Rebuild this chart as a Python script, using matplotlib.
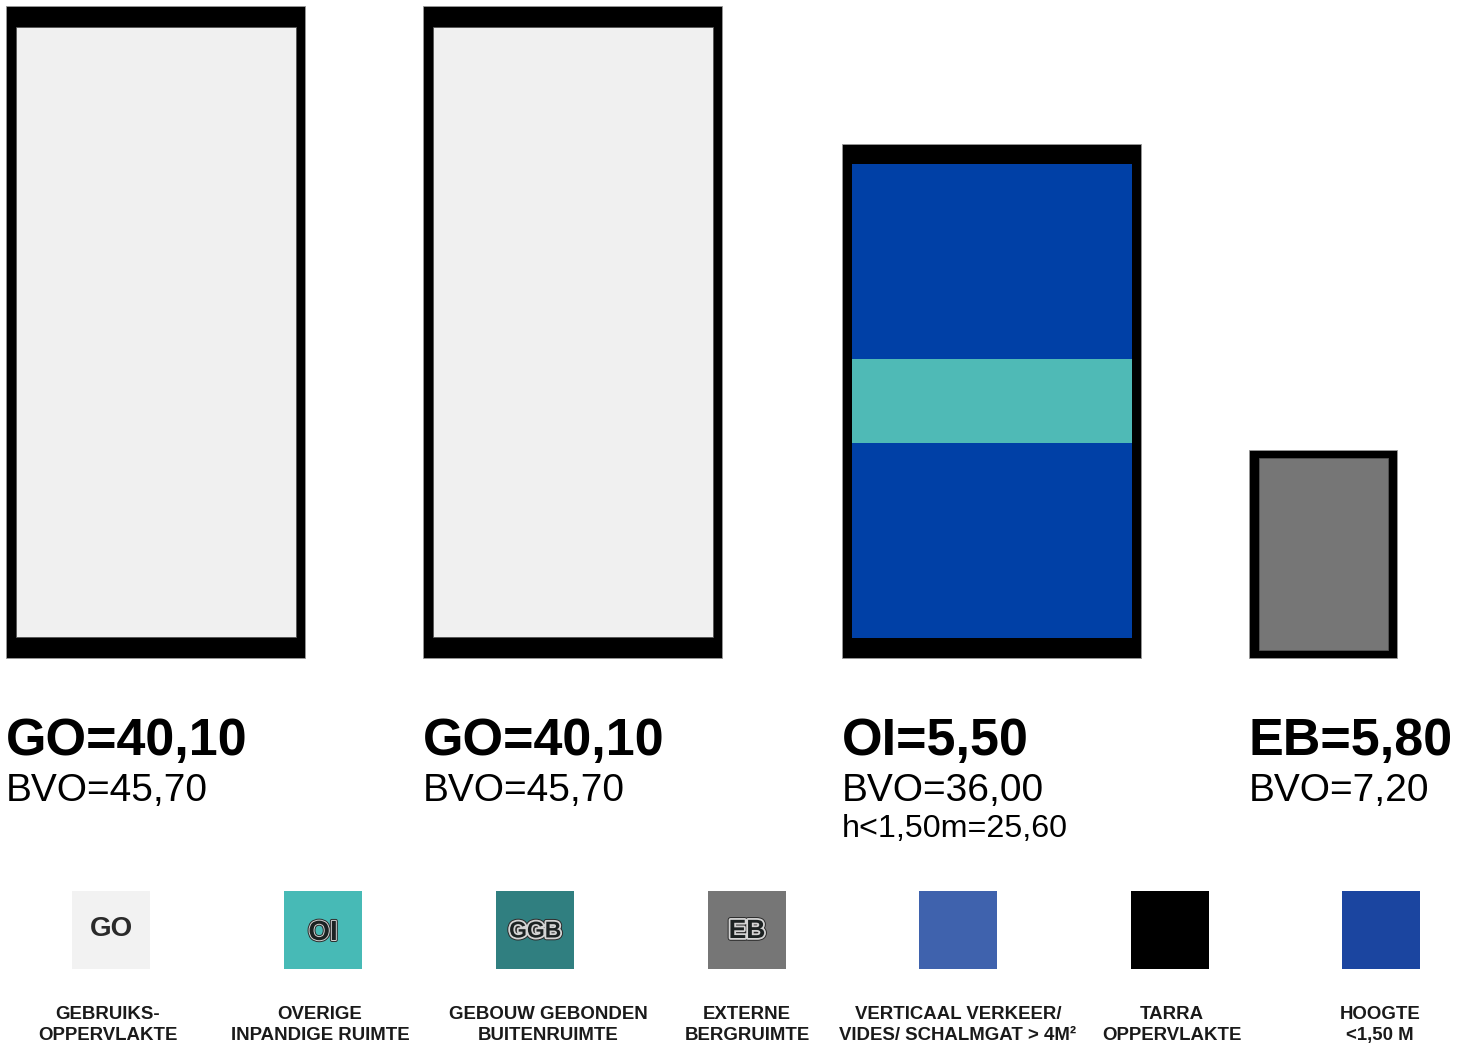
import matplotlib.pyplot as plt
import matplotlib.patches as mpatches
import matplotlib.patheffects as pe

plt.rcParams['font.family'] = ['Liberation Sans', 'DejaVu Sans']

# Areas per room (m2)
codes = ['GO', 'GO', 'OI', 'EB']
main_area = [40.10, 40.10, 5.50, 5.80]
bvo = [45.70, 45.70, 36.00, 7.20]
low_area = [0.0, 0.0, 25.60, 0.0]   # h < 1,50 m
fill_col = ['#f0f0f0', '#f0f0f0', '#4fbab6', '#767676']

# Legend
leg_codes = ['GO', 'OI', 'GGB', 'EB', '', '', '']
leg_labels = ['GEBRUIKS-\nOPPERVLAKTE', 'OVERIGE\nINPANDIGE RUIMTE',
              'GEBOUW GEBONDEN\nBUITENRUIMTE', 'EXTERNE\nBERGRUIMTE',
              'VERTICAAL VERKEER/\nVIDES/ SCHALMGAT > 4M²', 'TARRA\nOPPERVLAKTE',
              'HOOGTE\n<1,50 M']
leg_colors = ['#f2f2f2', '#47bab6', '#307f80', '#767676', '#3f62ad', '#000000', '#1b45a0']

low_col = '#0040a6'

# layout (pixels)
px_per_m2 = 4266.0
box_left = [6, 423, 842, 1249]
box_w = [299, 299, 299, 148]
base_y = 658
wall_l, wall_r = 10, 9

fig = plt.figure(figsize=(14.57, 10.46), dpi=100)
ax = fig.add_axes([0, 0, 1, 1])
ax.set_xlim(0, 1457)
ax.set_ylim(1046, 0)
ax.axis('off')

for i in range(4):
    x0 = box_left[i]
    w = box_w[i]
    h = bvo[i] * px_per_m2 / w
    # tarra (outer black)
    ax.add_patch(mpatches.Rectangle((x0, base_y - h), w, h, facecolor='black',
                                    edgecolor='#999999', lw=0.6))
    iw = w - wall_l - wall_r
    inner = main_area[i] + low_area[i]
    ih = inner * px_per_m2 / iw
    iy = base_y - h + (h - ih) / 2
    ix = x0 + wall_l
    if low_area[i] > 0:
        ax.add_patch(mpatches.Rectangle((ix, iy), iw, ih, facecolor=low_col, lw=0))
        sh = main_area[i] * px_per_m2 / iw
        ax.add_patch(mpatches.Rectangle((ix, iy + (ih - sh) / 2), iw, sh,
                                        facecolor=fill_col[i], lw=0))
    else:
        ax.add_patch(mpatches.Rectangle((ix, iy), iw, ih, facecolor=fill_col[i],
                                        edgecolor='#555555', lw=0.6))

    ax.text(x0, 755, f'{codes[i]}={main_area[i]:.2f}'.replace('.', ','),
            fontsize=37.5, fontweight='bold', va='baseline', ha='left')
    ax.text(x0, 801, f'BVO={bvo[i]:.2f}'.replace('.', ','),
            fontsize=28, va='baseline', ha='left')
    if low_area[i] > 0:
        ax.text(x0, 837, f'h<1,50m={low_area[i]:.2f}'.replace('.', ','),
                fontsize=23.2, va='baseline', ha='left')

# legend row
sw_left = [72, 284, 496, 708, 919, 1131, 1342]
lab_x = [108, 320, 548, 747, 958, 1172, 1380]
sw_size = 78
sw_top = 891
code_size = [20, 20, 16.5, 19, 0, 0, 0]
code_dy = [0, 4, 2, 2, 0, 0, 0]
stroke_w = [0, 1.4, 2.6, 2.6, 0, 0, 0]

for k in range(7):
    ax.add_patch(mpatches.Rectangle((sw_left[k], sw_top), sw_size, sw_size,
                                    facecolor=leg_colors[k], lw=0))
    if leg_codes[k]:
        cx = sw_left[k] + sw_size / 2
        cy = sw_top + sw_size / 2 + code_dy[k] - 1
        if k == 0:
            ax.text(cx, cy, leg_codes[k], fontsize=code_size[k], fontweight='bold',
                    color='#2a2a2a', ha='center', va='center')
        else:
            sw = stroke_w[k]
            ax.text(cx, cy, leg_codes[k], fontsize=code_size[k], fontweight='bold',
                    color='#1c2222', ha='center', va='center',
                    path_effects=[pe.Stroke(linewidth=sw + 1.4, foreground='#2a2a2a'),
                                  pe.Stroke(linewidth=sw, foreground='#d4d4d4'),
                                  pe.Normal()])
    ax.text(lab_x[k], 1025, leg_labels[k], fontsize=13.4, fontweight='bold',
            color='#1a1a1a', ha='center', va='center', linespacing=1.35)

fig.savefig('out.png', dpi=100, facecolor='white')
